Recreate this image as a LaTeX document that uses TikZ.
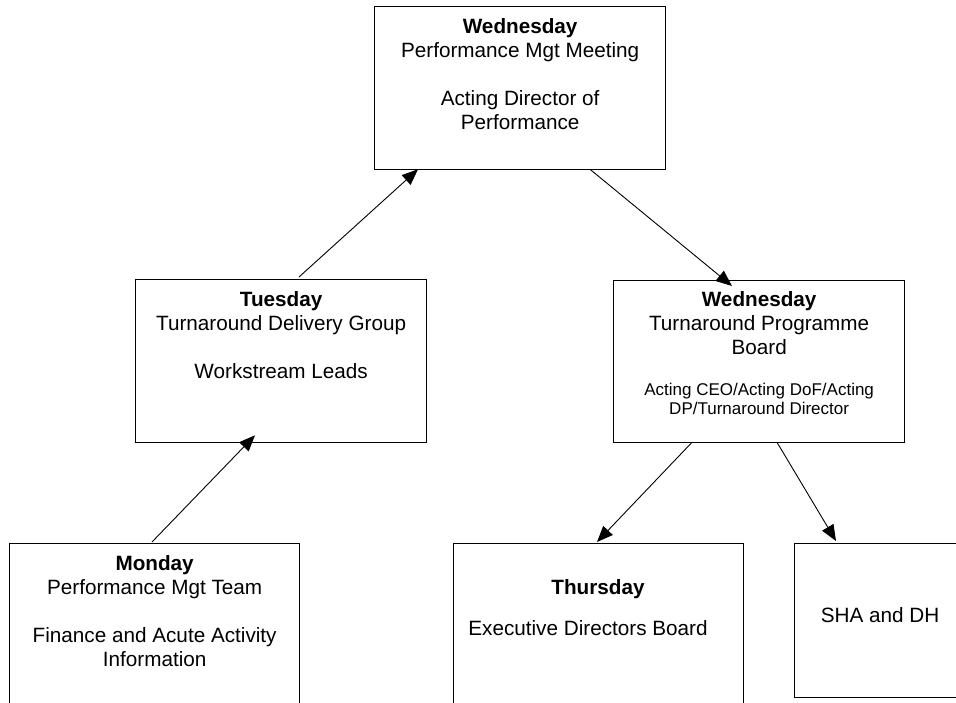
\documentclass[tikz,border=0pt]{standalone}
\usepackage{fontspec}
\setmainfont{Liberation Sans}
\usetikzlibrary{arrows.meta}
\begin{document}
\begin{tikzpicture}[x=1pt,y=-1pt,
  box/.style={draw=black, line width=1.3pt, inner sep=0pt, anchor=north west},
  big/.style={font=\fontsize{20.7}{24}\selectfont, align=center, inner sep=0pt, text=black},
  small/.style={font=\fontsize{17}{19.5}\selectfont, align=center, inner sep=0pt, text=black},
  conn/.style={draw=black, line width=0.9pt, -{Triangle[length=16pt,width=13pt]}}]
\clip (0,0) rectangle (956,702);
\fill[white] (0,0) rectangle (956,702);
% boxes
\node[box, minimum width=291pt, minimum height=163pt] (wed1) at (374,6) {};
\node[box, minimum width=291pt, minimum height=163pt] (tue) at (135,279) {};
\node[box, minimum width=291pt, minimum height=162pt] (wed2) at (613,280) {};
\node[box, minimum width=290pt, minimum height=200pt] (mon) at (9,543) {};
\node[box, minimum width=290pt, minimum height=200pt] (thu) at (453,543) {};
\node[box, minimum width=172pt, minimum height=154pt] (sha) at (794,543) {};
% texts
\node[big, anchor=north] (wed1t) at ([yshift=-12.2pt]wed1.north)
  {\textbf{Wednesday}\\Performance Mgt Meeting\\[24pt]Acting Director of\\Performance};
\node[big, anchor=north] (tuet) at ([yshift=-12.2pt]tue.north)
  {\textbf{Tuesday}\\Turnaround Delivery Group\\[24pt]Workstream Leads};
\node[big, anchor=north] (wed2t) at ([yshift=-11.2pt]wed2.north)
  {\textbf{Wednesday}\\Turnaround Programme\\Board};
\node[small, anchor=north] (wed2s) at ([yshift=-102.8pt]wed2.north)
  {Acting CEO/Acting DoF/Acting\\DP/Turnaround Director};
\node[big, anchor=north] (mont) at ([yshift=-12.2pt]mon.north)
  {\textbf{Monday}\\Performance Mgt Team\\[24pt]Finance and Acute Activity\\Information};
\node[big, anchor=base] (thut) at (598,594) {\textbf{Thursday}};
\node[big, anchor=base] (thus) at (588,635) {Executive Directors Board};
\node[big, anchor=base] (shat) at (880,622.7) {SHA and DH};
% connector end points
\coordinate (a1s) at ([xshift=143pt,yshift=1pt]mon.north west);
\coordinate (a1e) at ([xshift=120pt,yshift=8pt]tue.south west);
\coordinate (a2s) at ([xshift=164pt,yshift=2pt]tue.north west);
\coordinate (a2e) at ([xshift=44pt,yshift=1pt]wed1.south west);
\coordinate (a3s) at ([xshift=216pt,yshift=1pt]wed1.south west);
\coordinate (a3e) at ([xshift=119pt,yshift=-6pt]wed2.north west);
\coordinate (a4s) at ([xshift=79pt,yshift=1pt]wed2.south west);
\coordinate (a4e) at ([xshift=144pt,yshift=1pt]thu.north west);
\coordinate (a5s) at ([xshift=164pt,yshift=1pt]wed2.south west);
\coordinate (a5e) at ([xshift=42pt,yshift=2pt]sha.north west);
% connectors
\draw[conn] (a1s) -- (a1e);
\draw[conn] (a2s) -- (a2e);
\draw[conn] (a3s) -- (a3e);
\draw[conn] (a4s) -- (a4e);
\draw[conn] (a5s) -- (a5e);
\end{tikzpicture}
\end{document}
